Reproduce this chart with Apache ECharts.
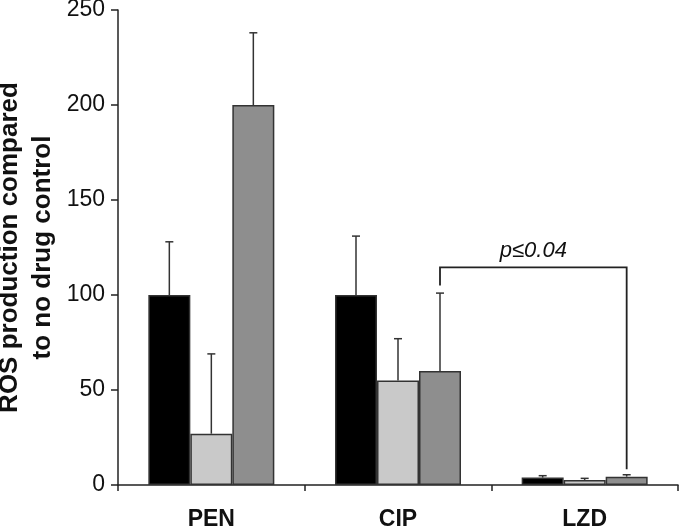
<!DOCTYPE html>
<html>
<head>
<meta charset="utf-8">
<script src="https://cdn.jsdelivr.net/npm/echarts@6/dist/echarts.min.js"></script>
<style>html,body{margin:0;padding:0;background:#fff;}#chart{width:680px;height:530px;}</style>
</head>
<body>
<div id="chart"></div>
<script>
// Data
const categories = ['PEN', 'CIP', 'LZD'];
const blackValues = [100, 100, 3.9];
const blackErrors = [28, 31, 1.0];
const lightValues = [27, 55, 2.6];
const lightErrors = [42, 22, 0.9];
const grayValues = [200, 60, 4.4];
const grayErrors = [38, 41, 1.0];
const yTicks = [0, 50, 100, 150, 200, 250];
// significance bracket: from CIP (gray) to LZD (gray)
const bracketCats = [1, 2];
const bracketSeries = 2;
const bracketLevel = 114.5;
const bracketEnds = [105, 8.3];
const bracketLabel = 'p\u22640.04';

const BAR_FRAC = 0.225;
const seriesColors = ['#000000', '#c9c9c9', '#8e8e8e'];
const valueSets = [blackValues, lightValues, grayValues];
const errorSets = [blackErrors, lightErrors, grayErrors];

const errData = [];
valueSets.forEach((vals, s) => {
  vals.forEach((v, c) => errData.push([c, v, errorSets[s][c], s]));
});

const chart = echarts.init(document.getElementById('chart'), null, {renderer: 'canvas'});

const barSeries = valueSets.map((vals, s) => ({
  type: 'bar',
  data: vals,
  barWidth: (BAR_FRAC * 100) + '%',
  barGap: '0%',
  itemStyle: {color: seriesColors[s], borderColor: '#333', borderWidth: 1.5},
  emphasis: {disabled: true},
  z: 2
}));

const option = {
  animation: false,
  backgroundColor: '#fff',
  grid: {left: 118, right: 2, top: 10, bottom: 45, containLabel: false, outerBoundsMode: 'none'},
  xAxis: {
    type: 'category',
    data: categories,
    boundaryGap: true,
    axisLine: {lineStyle: {color: '#222', width: 1.5}},
    axisTick: {show: true, length: 6, lineStyle: {color: '#222', width: 1.5}},
    axisLabel: {margin: 23, fontFamily: 'Liberation Sans', fontWeight: 'bold', fontSize: 23, color: '#111'}
  },
  yAxis: {
    type: 'value',
    min: yTicks[0],
    max: yTicks[yTicks.length - 1],
    interval: yTicks[1] - yTicks[0],
    name: 'ROS production compared\nto no drug control',
    nameLocation: 'middle',
    nameGap: 59,
    nameRotate: 90,
    nameMoveOverlap: false,
    nameTextStyle: {fontFamily: 'Liberation Sans', fontWeight: 'bold', fontSize: 26, lineHeight: 33, color: '#111'},
    axisLine: {show: true, lineStyle: {color: '#222', width: 1.5}},
    axisTick: {show: true, length: 7, lineStyle: {color: '#222', width: 1.5}},
    splitLine: {show: false},
    axisLabel: {margin: 13, fontFamily: 'Liberation Sans', fontSize: 23, color: '#111'}
  },
  series: barSeries.concat([
    {
      type: 'custom',
      data: errData,
      encode: {x: 0, y: 1},
      z: 3,
      silent: true,
      renderItem: function (params, api) {
        const cat = api.value(0), v = api.value(1), sd = api.value(2), s = api.value(3);
        const band = api.size([1, 0])[0];
        const bw = band * BAR_FRAC;
        const base = api.coord([cat, v]);
        const top = api.coord([cat, v + sd]);
        const x = base[0] + (s - 1) * bw;
        const st = {stroke: '#333', lineWidth: 1.5};
        return {type: 'group', children: [
          {type: 'line', shape: {x1: x, y1: base[1], x2: x, y2: top[1]}, style: st},
          {type: 'line', shape: {x1: x - 4, y1: top[1], x2: x + 4, y2: top[1]}, style: st}
        ]};
      }
    },
    {
      type: 'custom',
      data: [[bracketCats[0], bracketLevel, bracketCats[1], bracketEnds[0], bracketEnds[1]]],
      encode: {x: 0, y: 1},
      z: 4,
      silent: true,
      renderItem: function (params, api) {
        const band = api.size([1, 0])[0];
        const bw = band * BAR_FRAC;
        const off = (bracketSeries - 1) * bw;
        const p1 = api.coord([api.value(0), api.value(1)]);
        const p2 = api.coord([api.value(2), api.value(1)]);
        const e1 = api.coord([api.value(0), api.value(3)]);
        const e2 = api.coord([api.value(2), api.value(4)]);
        const x1 = p1[0] + off, x2 = p2[0] + off;
        return {type: 'group', children: [
          {type: 'polyline', shape: {points: [[x1, e1[1]], [x1, p1[1]], [x2, p2[1]], [x2, e2[1]]]},
           style: {stroke: '#222', lineWidth: 1.8, fill: null}},
          {type: 'text', x: (x1 + x2) / 2, y: p1[1] - 6,
           style: {text: bracketLabel, fontFamily: 'Liberation Sans', fontStyle: 'italic', fontSize: 22,
                   fill: '#111', align: 'center', verticalAlign: 'bottom'}}
        ]};
      }
    }
  ])
};
chart.setOption(option);
</script>
</body>
</html>
